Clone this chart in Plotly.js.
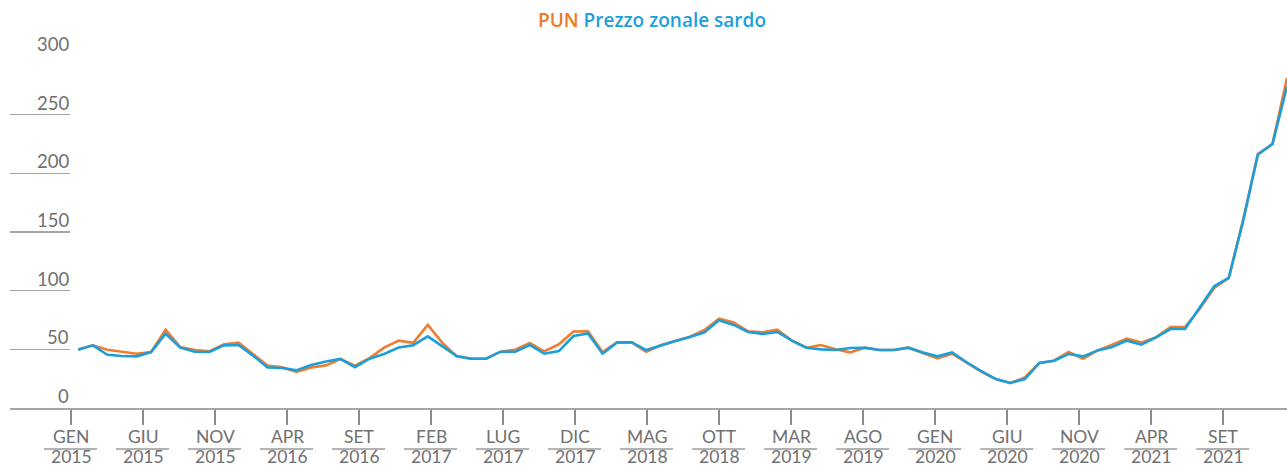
<!DOCTYPE html>
<html>
<head>
<meta charset="utf-8">
<script src="https://cdn.plot.ly/plotly-3.0.1.min.js"></script>
<style>html,body{margin:0;padding:0;background:#fff;}#chart{width:1287px;height:468px;}</style>
</head>
<body>
<div id="chart"></div>
<script>
// Monthly values, Jan 2015 – Dec 2021 (€/MWh)
const pun = [
  50.0, 53.4, 49.7, 48.0, 46.3, 47.7, 66.7, 52.0, 49.4, 48.3, 54.3, 55.7,
  46.0, 36.1, 34.6, 30.8, 34.5, 36.3, 41.7, 36.0, 42.5, 51.4, 57.4, 55.5,
  70.9, 55.5, 44.0, 42.0, 42.0, 48.0, 49.7, 55.4, 48.3, 54.3, 65.2, 65.3,
  47.7, 55.9, 55.9, 48.0, 53.4, 57.1, 60.8, 66.5, 76.2, 72.8, 65.3, 64.5,
  66.8, 57.4, 51.4, 53.7, 50.0, 47.4, 51.4, 49.4, 49.4, 51.4, 46.6, 42.3,
  46.3, 39.0, 31.0, 24.7, 21.3, 26.1, 38.4, 40.3, 47.7, 42.0, 49.1, 54.0,
  59.1, 55.9, 60.2, 69.0, 69.0, 84.4, 102.3, 110.8, 161.0, 216.5, 225.0, 281.3
];
const sardo = [
  49.7, 53.4, 45.4, 44.3, 44.0, 47.7, 63.3, 51.4, 48.0, 47.7, 53.4, 53.7,
  44.6, 34.6, 34.1, 32.2, 36.6, 39.7, 41.8, 34.8, 42.0, 46.0, 51.6, 53.5,
  61.1, 52.5, 44.0, 42.0, 42.0, 48.0, 48.0, 53.7, 46.3, 48.5, 61.3, 63.6,
  46.3, 55.9, 55.9, 49.4, 53.4, 57.1, 60.5, 64.5, 74.8, 70.8, 64.8, 63.1,
  64.8, 57.4, 51.4, 50.0, 49.4, 51.1, 51.4, 49.4, 49.4, 51.4, 47.4, 44.0,
  47.4, 39.0, 31.5, 24.7, 21.3, 24.7, 38.4, 40.3, 46.0, 44.0, 49.1, 52.0,
  57.4, 54.0, 60.2, 67.3, 67.3, 85.2, 103.7, 110.8, 160.0, 216.0, 225.0, 274.0
];
const tickMonths = ["GEN","GIU","NOV","APR","SET","FEB","LUG","DIC","MAG","OTT","MAR","AGO","GEN","GIU","NOV","APR","SET"];
const tickYears  = ["2015","2015","2015","2016","2016","2017","2017","2017","2018","2018","2019","2019","2020","2020","2020","2021","2021"];
const yTicks = [0, 50, 100, 150, 200, 250, 300];

const x = pun.map((_, i) => i);
const tickPos = tickMonths.map((_, k) => -0.5 + 4.945 * k);

const FONT = "Open Sans";
const LFONT = "Lato";
const GREY_TXT = "#707070";
const ORANGE = "#EE7D31";
const BLUE = "#1B9FDA";

const traces = [
  {x: x, y: pun, type: "scatter", mode: "lines", name: "PUN",
   line: {color: ORANGE, width: 2.6}, hoverinfo: "skip"},
  {x: x, y: sardo, type: "scatter", mode: "lines", name: "Prezzo zonale sardo",
   line: {color: BLUE, width: 2.6}, hoverinfo: "skip"}
];

const annotations = [];
const shapes = [];
tickPos.forEach((p, k) => {
  annotations.push({xref: "x", yref: "paper", x: p, y: 0, yanchor: "bottom", xanchor: "center",
    yshift: -39.5, borderpad: 0, showarrow: false, text: tickMonths[k],
    font: {family: LFONT, size: 17.5, color: GREY_TXT}});
  annotations.push({xref: "x", yref: "paper", x: p, y: -60 / 352, yanchor: "bottom", xanchor: "center",
    yshift: 0, borderpad: 0, showarrow: false, text: tickYears[k],
    font: {family: LFONT, size: 17.5, color: GREY_TXT}});
  shapes.push({type: "line", xref: "x", xsizemode: "pixel", xanchor: p, x0: -27, x1: 26,
    yref: "paper", y0: -41 / 352, y1: -41 / 352, line: {color: "#9a9a9a", width: 1.5}});
});
yTicks.forEach(v => {
  annotations.push({xref: "paper", yref: "y", x: 60 / 1277, y: v, xanchor: "right", yanchor: "bottom",
    yshift: 0, borderpad: 0, showarrow: false, text: String(v),
    font: {family: LFONT, size: 18.5, color: GREY_TXT}});
});

const layout = {
  width: 1287, height: 468,
  margin: {l: 10, r: 0, t: 56, b: 60},
  paper_bgcolor: "#ffffff", plot_bgcolor: "#ffffff",
  showlegend: false,
  title: {
    text: '<span style="color:#F07A22">PUN</span> <span style="color:#1CA0DC">Prezzo zonale sardo</span>',
    xref: "container", yref: "container", x: 652 / 1287, y: 1 - 20 / 468,
    xanchor: "center", yanchor: "middle",
    font: {family: FONT, size: 19, weight: 600}
  },
  xaxis: {
    range: [-4.69, 83.0], showgrid: false, zeroline: false,
    showline: true, linecolor: "#a6a6a6", linewidth: 1.5,
    ticks: "outside", ticklen: 15, tickwidth: 1.5, tickcolor: "#8c8c8c",
    tickmode: "array", tickvals: tickPos, showticklabels: false, fixedrange: true
  },
  yaxis: {
    range: [0, 300], showgrid: false, zeroline: false, showline: false,
    ticks: "inside", ticklen: 60, tickwidth: 1.5, tickcolor: "#a6a6a6",
    tickmode: "array", tickvals: yTicks, showticklabels: false, fixedrange: true
  },
  annotations: annotations,
  shapes: shapes
};

Plotly.newPlot("chart", traces, layout, {displayModeBar: false, staticPlot: true});
</script>
</body>
</html>
